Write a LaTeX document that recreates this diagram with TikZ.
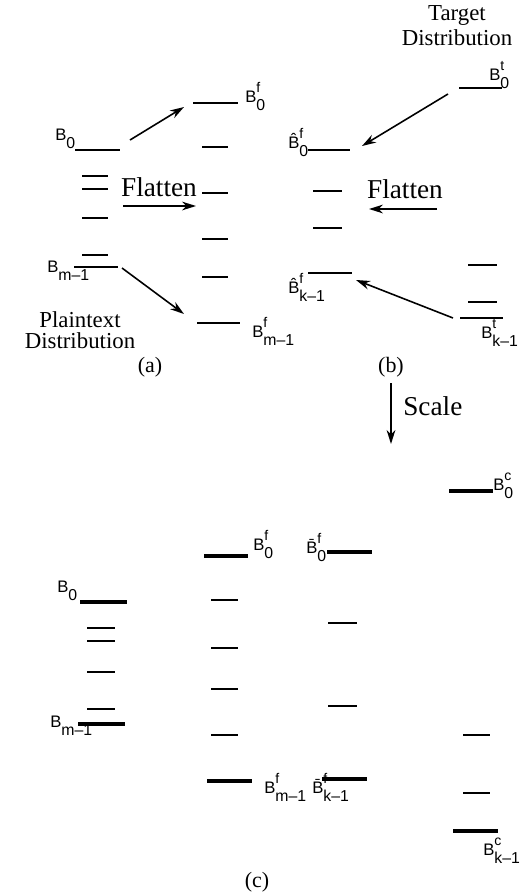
\documentclass[tikz,border=0pt]{standalone}
\usepackage{fontspec}
\setmainfont{Liberation Serif}
\newfontfamily\lblfont{Liberation Sans}
\usetikzlibrary{arrows.meta}
% B with sup/sub index
\newcommand{\bsym}[3]{#1\rlap{\raisebox{5.5pt}{\fontsize{8}{8}\selectfont #2}}\raisebox{-4.8pt}{\fontsize{9}{9}\selectfont #3}}
\newcommand{\mo}[1]{#1\textendash 1}

\begin{document}
\begin{tikzpicture}[x=0.02cm, y=-0.02cm, >={Stealth[length=8pt,width=5pt]},
  bin/.style={line width=1.5pt},
  fatbin/.style={line width=2.2pt},
  thinbin/.style={line width=0.7pt},
  flow/.style={->, line width=0.9pt},
  binlab/.style={anchor=base west, inner sep=0pt, font=\lblfont\fontsize{9.5}{10}\selectfont},
  desc/.style={anchor=north, inner sep=0pt, align=center},
  optext/.style={anchor=base, inner sep=0pt, font=\fontsize{15.5}{17}\selectfont}]
  \useasboundingbox (0,0) rectangle (520,896);

  % (a) plaintext bins
  \draw[bin] (75,150) -- (120,150);
  \draw[bin] (74,267) -- (118,267);
  \foreach \y in {176,189,218,255} \draw[thinbin] (82,\y) -- (108,\y);
  \node[binlab] (labA0) at (55,140) {\bsym{B}{}{0}};
  \node[binlab] (labAm) at (47,272) {\bsym{B}{}{\mo{m}}};
  \node[desc, font=\fontsize{13}{12}\selectfont] (plain) at (80,311) {Plaintext\\Distribution};

  % (a) flattened bins
  \draw[bin] (193,103) -- (238,103);
  \draw[bin] (197,323) -- (240,323);
  \foreach \y in {147,193,239,277} \draw[thinbin] (202,\y) -- (228,\y);
  \node[binlab] (labF0) at (245,102) {\bsym{B}{f}{0}};
  \node[binlab] (labFm) at (252,337) {\bsym{B}{f}{\mo{m}}};

  % arrows (a)
  \coordinate (a0s) at (130,140);
  \coordinate (a0e) at (184,107);
  \coordinate (ams) at (122,268);
  \coordinate (ame) at (184,314);
  \coordinate (fas) at (123,206);
  \coordinate (fae) at (196,206);
  \draw[flow] (a0s) -- (a0e);
  \draw[flow] (ams) -- (ame);
  \draw[flow] (fas) -- (fae);
  \node[optext] (flatA) at (159,196) {Flatten};
  \node[optext, font=\fontsize{12.5}{14}\selectfont] (capA) at (150,372) {(a)};

  % (b) flattened target bins
  \draw[bin] (308,150) -- (350,150);
  \draw[bin] (308,273) -- (352,273);
  \foreach \y in {191,228} \draw[thinbin] (313,\y) -- (342,\y);
  \node[binlab] (labH0) at (288,148) {\bsym{\^{B}}{f}{0}};
  \node[binlab] (labHk) at (288,293) {\bsym{\^{B}}{f}{\mo{k}}};

  % (b) target bins
  \draw[bin] (459,88) -- (502,88);
  \draw[bin] (460,318) -- (503,318);
  \foreach \y in {265,302} \draw[thinbin] (468,\y) -- (497,\y);
  \node[binlab] (labT0) at (489,80) {\bsym{B}{t}{0}};
  \node[binlab] (labTk) at (481,338) {\bsym{B}{t}{\mo{k}}};
  \node[desc, font=\fontsize{13}{14.2}\selectfont] (target) at (457,5) {Target\\Distribution};

  % arrows (b)
  \coordinate (b0s) at (448,94);
  \coordinate (b0e) at (362,146);
  \coordinate (bks) at (453,318);
  \coordinate (bke) at (356,280);
  \coordinate (fbs) at (437,209);
  \coordinate (fbe) at (369,209);
  \draw[flow] (b0s) -- (b0e);
  \draw[flow] (bks) -- (bke);
  \draw[flow] (fbs) -- (fbe);
  \node[optext] (flatB) at (405,198) {Flatten};
  \node[optext, font=\fontsize{12.5}{14}\selectfont] (capB) at (391,372) {(b)};

  % scale
  \coordinate (scs) at (391,383);
  \coordinate (sce) at (391,444);
  \draw[flow] (scs) -- (sce);
  \node[optext, anchor=base west] (scale) at (403,415) {Scale};

  % (c) plaintext bins
  \draw[fatbin] (80,602) -- (127,602);
  \draw[fatbin] (78,724) -- (125,724);
  \foreach \y in {628,641,672,709} \draw[thinbin] (87,\y) -- (115,\y);
  \node[binlab] (labC0) at (57,592) {\bsym{B}{}{0}};
  \node[binlab] (labCm) at (50,727) {\bsym{B}{}{\mo{m}}};

  % (c) flattened bins
  \draw[fatbin] (204,556) -- (248,556);
  \draw[fatbin] (207,781) -- (252,781);
  \foreach \y in {600,648,689,735} \draw[thinbin] (211,\y) -- (238,\y);
  \node[binlab] (labCF0) at (253,550) {\bsym{B}{f}{0}};
  \node[binlab] (labCFm) at (264,793) {\bsym{B}{f}{\mo{m}}};

  % (c) scaled target bins
  \draw[fatbin] (327,552) -- (372,552);
  \draw[fatbin] (322,779) -- (367,779);
  \foreach \y in {623,706} \draw[thinbin] (328,\y) -- (357,\y);
  \node[binlab] (labCB0) at (306,553) {\bsym{\={B}}{f}{0}};
  \node[binlab] (labCBk) at (312,793) {\bsym{\={B}}{f}{\mo{k}}};

  % (c) cipher bins
  \draw[fatbin] (449,491) -- (493,491);
  \draw[fatbin] (453,831) -- (498,831);
  \foreach \y in {735,793} \draw[thinbin] (463,\y) -- (490,\y);
  \node[binlab] (labK0) at (493,490) {\bsym{B}{c}{0}};
  \node[binlab] (labKk) at (483,855) {\bsym{B}{c}{\mo{k}}};
  \node[optext, font=\fontsize{12.5}{14}\selectfont] (capC) at (257,887) {(c)};
\end{tikzpicture}
\end{document}
